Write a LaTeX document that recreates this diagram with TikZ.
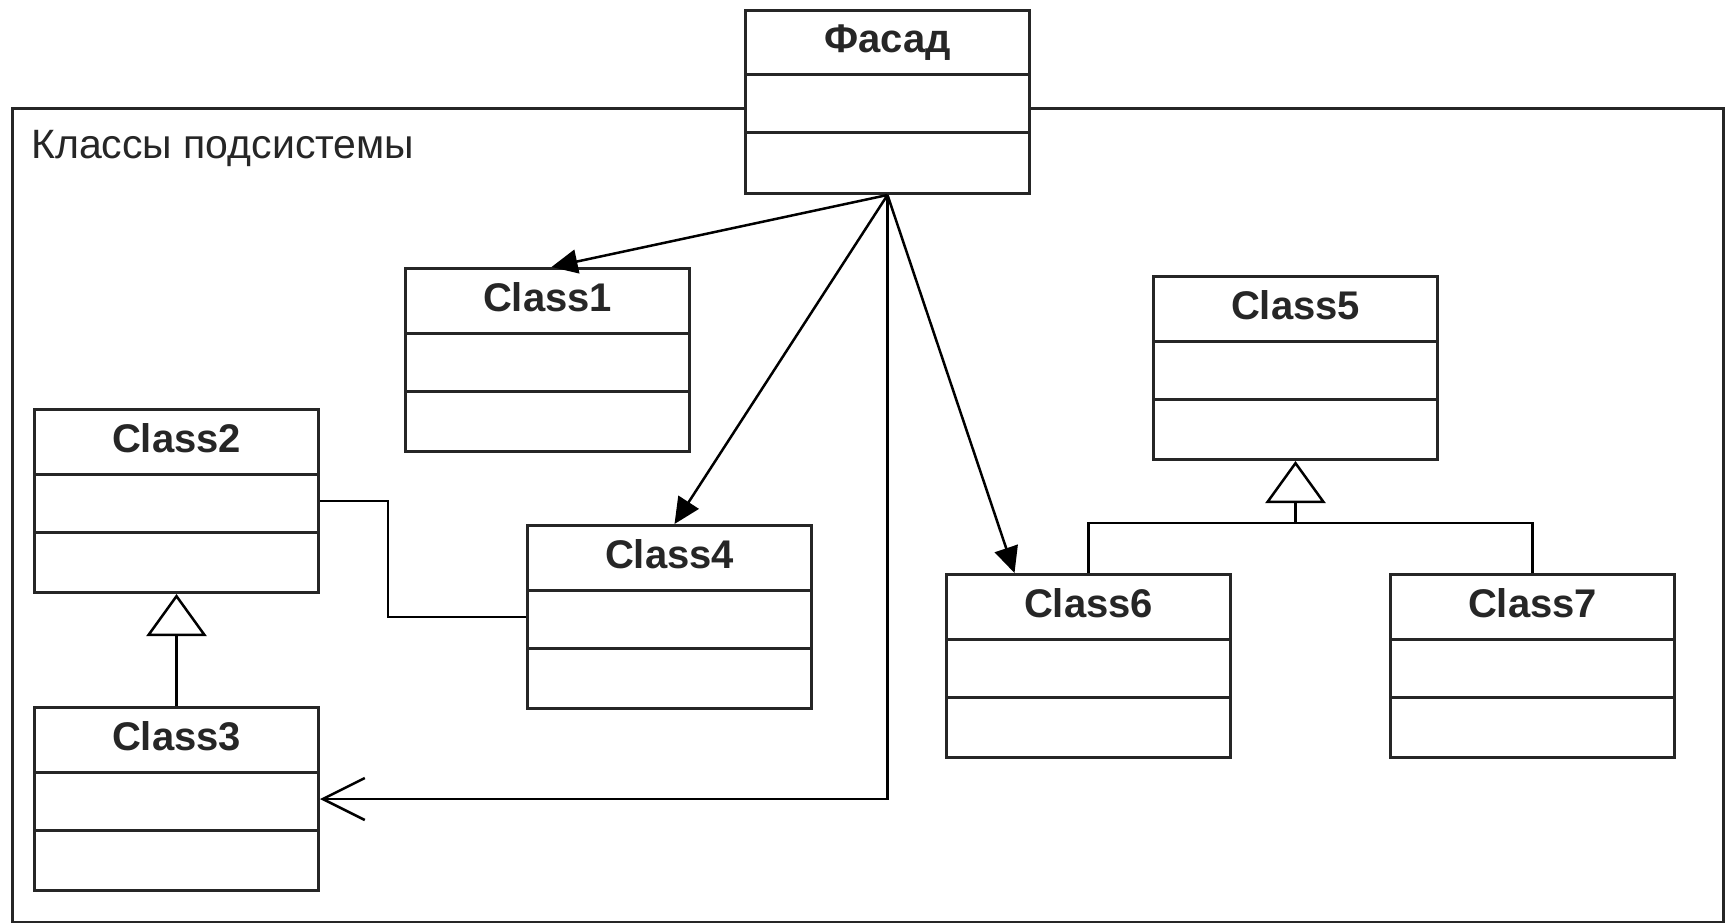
\documentclass[tikz,border=0pt]{standalone}
\usepackage{fontspec}
\setmainfont{Liberation Sans}
\usetikzlibrary{arrows.meta,calc}

% UML class box: name, left x, top y, title
\newcommand\umlclass[4]{%
  \node[clsbox] (#1) at (#2,#3) {};
  \draw[divider] ([yshift=-66pt]#1.north west) -- ([yshift=-66pt]#1.north east);
  \draw[divider] ([yshift=-124pt]#1.north west) -- ([yshift=-124pt]#1.north east);
  \node[clstitle] (#1-title) at ([yshift=-44pt]#1.north) {#4};
}

\begin{document}
\begin{tikzpicture}[x=1pt,y=-1pt,
  pkg/.style={draw=black!85, line width=3pt, minimum width=1711pt, minimum height=814pt,
    inner sep=0pt, anchor=north west},
  clsbox/.style={draw=black!85, fill=white, line width=3pt, minimum width=284pt,
    minimum height=183pt, inner sep=0pt, anchor=north west},
  divider/.style={draw=black!85, line width=3pt},
  clstitle/.style={font=\fontsize{40}{44}\selectfont\bfseries, text=black!85,
    inner sep=0pt, anchor=base},
  link/.style={draw=black, line width=2.5pt},
  call/.style={link, -{Triangle[length=26pt,width=24pt]}},
  nav/.style={link, -{Straight Barb[length=42pt,width=42pt,line width=2.5pt]}},
  inherit/.style={link, -{Triangle[open,length=42pt,width=60pt,fill=white,line width=2.5pt]}},
]
\useasboundingbox (0,0) rectangle (1729,923);
\fill[white] (0,0) rectangle (1729,923);

% subsystem package
\node[pkg] (package) at (11,107) {};
\node[anchor=base west, font=\fontsize{41}{46}\selectfont, text=black!85, inner sep=0pt]
  (pkglabel) at (31,158) {Классы подсистемы};

% classes
\umlclass{fac}{744}{9}{Фасад}
\umlclass{c1}{404}{267}{Class1}
\umlclass{c2}{33}{408}{Class2}
\umlclass{c3}{33}{706}{Class3}
\umlclass{c4}{526}{524}{Class4}
\umlclass{c5}{1152}{275}{Class5}
\umlclass{c6}{945}{573}{Class6}
\umlclass{c7}{1389}{573}{Class7}

% facade calls
\draw[call] (fac.south) -- ([xshift=4pt]c1.north);
\draw[call] (fac.south) -- ([xshift=5pt]c4.north);
\draw[call] (fac.south) -- ([xshift=-74pt]c6.north);
\draw[nav] (fac.south) |- (c3.east);

% association Class2 -- Class4
\draw[link] (c2.east) -- ++(68,0) |- (c4.west);

% generalisations
\draw[inherit] (c3.north) -- (c2.south);
\coordinate (joint) at ($(c5.south)+(0,62)$);
\draw[link] (c6.north) |- (joint) -| (c7.north);
\draw[inherit] (joint) -- (c5.south);
\end{tikzpicture}
\end{document}
